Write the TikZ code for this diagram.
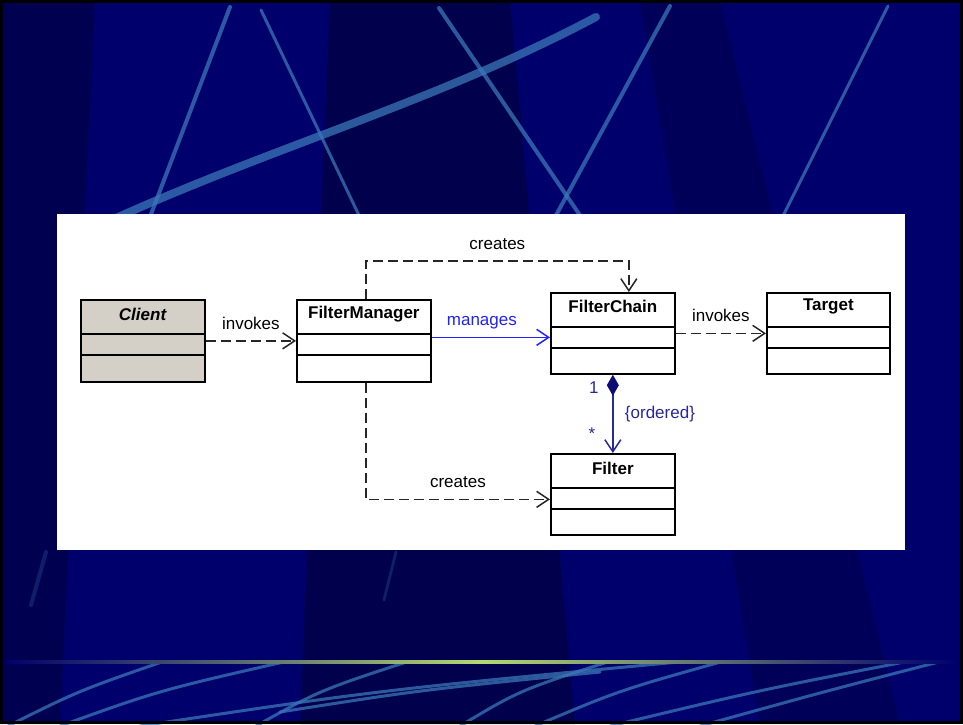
\documentclass[tikz,border=0pt]{standalone}
\usepackage{fontspec}
\setmainfont{Liberation Sans}
\usepackage{tikz}
\usetikzlibrary{arrows.meta,positioning}
\definecolor{bgnavy}{HTML}{00006C}
\definecolor{bgdark}{HTML}{000038}
\definecolor{streak}{HTML}{3A78B8}
\definecolor{glow}{HTML}{B4D872}
\definecolor{clientgray}{HTML}{D4D0C8}
\definecolor{mngblue}{HTML}{2222FF}
\definecolor{compcol}{HTML}{28289C}
\definecolor{diafill}{HTML}{0C0C74}
\tikzset{
  classbox/.style={draw=black, line width=1.7pt, fill=white, minimum width=124pt, minimum height=81pt, anchor=north west, inner sep=0pt},
  clsname/.style={font=\fontsize{17}{20}\selectfont\bfseries},
  lbl/.style={anchor=base, yshift=11.5pt, font=\fontsize{17}{20}\selectfont},
  opentip/.tip={Straight Barb[length=12pt,width=16pt,line width=1.5pt]},
  dep/.style={draw=black!85, line width=1.5pt, dash pattern=on 10pt off 5pt, -opentip},
  streakline/.style={draw=streak, line width=4pt, opacity=.75, line cap=round}
}
\begin{document}
\begin{tikzpicture}[x=1pt,y=-1pt,line join=miter]
\useasboundingbox (0,0) rectangle (963,724);
% slide background
\fill[bgnavy] (0,0) rectangle (963,724);
\fill[bgdark, opacity=.6] (330,0) -- (510,0) -- (575,724) -- (300,724) -- cycle;
\fill[bgdark, opacity=.5] (0,0) -- (95,0) -- (60,724) -- (0,724) -- cycle;
\fill[bgdark, opacity=.35] (640,0) -- (720,0) -- (900,724) -- (760,724) -- cycle;
\draw[streakline] (230,7) -- (145,230);
\draw[streakline, line width=3pt] (261,10) -- (366,230);
\draw[streakline, line width=8pt] (596,17) .. controls (430,105) and (260,150) .. (90,230);
\draw[streakline] (439,8) -- (590,230);
\draw[streakline] (670,6) -- (548,230);
\draw[streakline, line width=3pt] (888,6) -- (776,230);
\draw[streakline, opacity=.25] (46,552) -- (31,605);
\draw[streakline, opacity=.25, line width=3pt] (396,552) -- (384,600);
\begin{scope}
\clip (0,662) rectangle (963,724);
\draw[streakline, line width=3pt] (8,726) .. controls (80,690) .. (185,654);
\draw[streakline, line width=3pt] (60,726) .. controls (160,690) .. (310,656);
\draw[streakline, line width=3pt] (140,726) .. controls (380,690) .. (700,660);
\draw[streakline, line width=3pt] (256,726) .. controls (320,690) .. (425,656);
\draw[streakline, line width=3pt] (460,726) .. controls (520,690) .. (620,658);
\draw[streakline, line width=3pt] (535,726) .. controls (620,690) .. (735,658);
\draw[streakline, line width=3pt] (610,726) .. controls (760,690) .. (925,658);
\draw[streakline, line width=3pt] (700,726) .. controls (830,690) .. (962,656);
\draw[streakline, line width=3pt] (280,712) .. controls (420,690) .. (600,672);
\end{scope}
\shade[left color=bgnavy, right color=bgnavy, middle color=glow] (5,660.5) rectangle (958,663.5);
\draw[black, line width=3pt] (1.5,1.5) rectangle (961.5,722.5);
% white panel
\fill[white] (57,214) rectangle (905,550);
% classes
\node[classbox, fill=clientgray, minimum height=82pt] (client) at (80,299) {};
\node[classbox, minimum width=134pt, minimum height=82pt] (fm) at (296,299) {};
\node[classbox] (fc) at (550,292) {};
\node[classbox, minimum width=123pt] (target) at (766,292) {};
\node[classbox] (filter) at (550,453) {};
\foreach \c in {client,fm,fc,target,filter}{
  \draw[line width=1.7pt] ([yshift=-35pt]\c.north west) -- ([yshift=-35pt]\c.north east);
  \draw[line width=1.7pt] ([yshift=-56pt]\c.north west) -- ([yshift=-56pt]\c.north east);
}
\node[clsname] (clientname) at ([yshift=-15pt]client.north) {\textit{Client}};
\node[clsname] (fmname) at ([yshift=-15pt]fm.north) {FilterManager};
\node[clsname] (fcname) at ([yshift=-14pt]fc.north) {FilterChain};
\node[clsname] (targetname) at ([yshift=-14pt]target.north) {Target};
\node[clsname] (filtername) at ([yshift=-15pt]filter.north) {Filter};
% relations
\draw[dep] (client.east) -- (client.east -| fm.west) node[midway, lbl] {invokes};
\draw[mngblue, line width=1.5pt, -opentip]
  ([yshift=-4pt]fc.west -| fm.east) -- ([yshift=-4pt]fc.west) node[midway, lbl, xshift=-9pt, text=mngblue] {manages};
\draw[dep] (fc.east) -- (fc.east -| target.west) node[midway, lbl] {invokes};
\draw[dep] ([xshift=2pt]fm.north) -- ++(0,-38) -| ([xshift=16pt]fc.north) node[pos=.25, lbl] {creates};
\draw[dep] ([xshift=2pt]fm.south) |- ([yshift=-5pt]filter.west) node[pos=.75, lbl] {creates};
\draw[compcol, line width=1.6pt, {Diamond[length=21pt,width=12pt,fill=diafill,color=diafill]}-opentip]
  (fc.south) -- (filter.north) node[midway, right=8pt, font=\fontsize{17}{20}\selectfont, text=compcol] {\{ordered\}};
\node[font=\fontsize{17}{20}\selectfont, text=compcol] (one) at ([xshift=-19pt,yshift=-13pt]fc.south) {1};
\node[font=\fontsize{17}{20}\selectfont, text=compcol] (many) at ([xshift=-21pt,yshift=19pt]filter.north) {*};
\end{tikzpicture}
\end{document}
